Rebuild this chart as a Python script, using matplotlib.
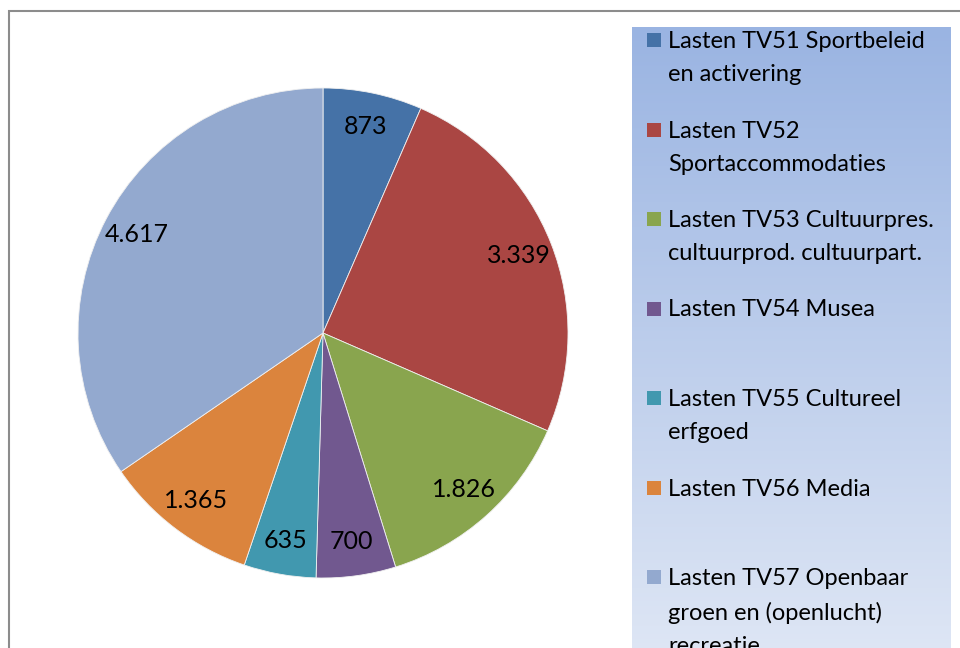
import numpy as np
import matplotlib
matplotlib.use("Agg")
import matplotlib.pyplot as plt
from matplotlib.patches import Rectangle

# data
categories = [
    "Lasten TV51 Sportbeleid\nen activering",
    "Lasten TV52\nSportaccommodaties",
    "Lasten TV53 Cultuurpres.\ncultuurprod. cultuurpart.",
    "Lasten TV54 Musea",
    "Lasten TV55 Cultureel\nerfgoed",
    "Lasten TV56 Media",
    "Lasten TV57 Openbaar\ngroen en (openlucht)\nrecreatie",
]
values = [873, 3339, 1826, 700, 635, 1365, 4617]
colors = ["#4572A7", "#AA4643", "#89A54E", "#71588F", "#4198AF", "#DB843D", "#93A9CF"]

plt.rcParams["font.family"] = ["Lato", "DejaVu Sans"]

W, H = 960, 648
fig = plt.figure(figsize=(9.6, 6.48), dpi=100)

# chart border
fig.patches.append(Rectangle((9 / W, -0.1), 1.2, 1.1 - 11 / H, transform=fig.transFigure,
                             fill=False, edgecolor="#8c8c8c", linewidth=1.5))


def fmt(v):
    return f"{v:,}".replace(",", ".")


# pie
cx, cy, r = 323, 333, 245
ax = fig.add_axes([(cx - r) / W, (H - cy - r) / H, 2 * r / W, 2 * r / H])
wedges, texts = ax.pie(values, colors=colors, startangle=90, counterclock=False,
                       labels=[fmt(v) for v in values], labeldistance=0.86,
                       wedgeprops=dict(edgecolor="#f0f0f0", linewidth=0.6))
for t in texts:
    t.set_ha("center")
    t.set_va("center")
    t.set_fontsize(18)
ax.set_xlim(-1, 1)
ax.set_ylim(-1, 1)
ax.set_aspect("auto")
ax.axis("off")

# legend box with gradient
lx0, lx1, ly0 = 632, 951, 27
lh = 700
lax = fig.add_axes([lx0 / W, (H - ly0 - lh) / H, (lx1 - lx0) / W, lh / H])
grad = np.linspace(0, 1, 256).reshape(-1, 1)
top = np.array([0x9A, 0xB4, 0xE2]) / 255
bot = np.array([0xE6, 0xEC, 0xF7]) / 255
img = top + (bot - top) * grad[:, :, None]
lax.imshow(img, aspect="auto", extent=[0, lx1 - lx0, lh, 0])
lax.set_xlim(0, lx1 - lx0)
lax.set_ylim(lh, 0)
lax.axis("off")

step = 89.5
for i, (lab, c) in enumerate(zip(categories, colors)):
    y = 40 - ly0 + i * step
    lax.add_patch(Rectangle((15, y - 7), 14, 14, facecolor=c, edgecolor="none"))
    lax.text(36, y - 9, lab, fontsize=17, va="top", ha="left", linespacing=1.72, color="#000000")

fig.savefig("out.png", dpi=100)
